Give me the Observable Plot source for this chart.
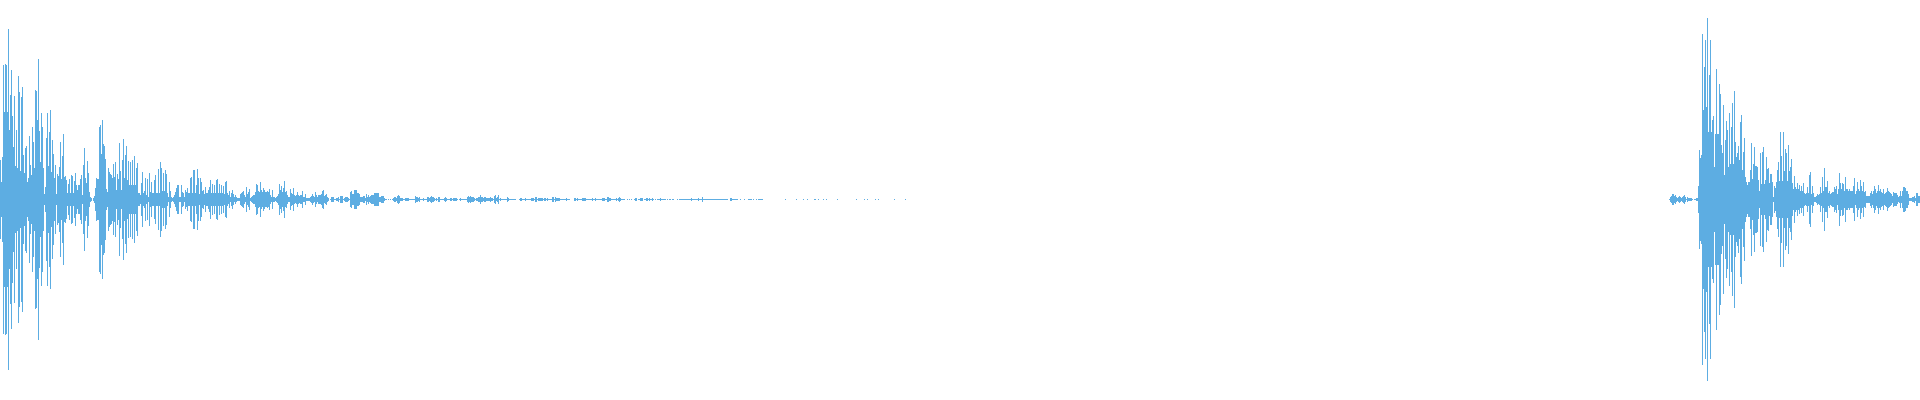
<!DOCTYPE html>
<html><head><meta charset="utf-8">
<style>html,body{margin:0;padding:0;background:#fff}svg{display:block}</style>
<script src="https://cdn.jsdelivr.net/npm/d3@7"></script>
<script src="https://cdn.jsdelivr.net/npm/@observablehq/plot@0.6"></script>
</head><body><div id="chart"></div>
<script>
// half-height of each waveform column, first burst starting at column 0
const burstA = [
40,18,43,135,88,136,135,88,171,70,105,130,84,53,104,34,70,32,124,108,29,103,113,45,27,52,54,18,22,64,
35,25,73,58,32,110,109,80,141,69,38,87,73,32,6,13,62,87,34,68,90,28,60,46,22,35,6,26,24,33,
58,21,44,66,23,24,20,7,16,21,7,25,24,7,19,27,15,10,15,15,21,25,5,35,52,22,17,39,27,8,
3,2,0,2,4,12,22,21,21,73,75,46,80,56,54,41,11,8,32,28,26,25,22,36,23,38,10,26,21,57,
29,10,40,61,22,45,54,20,39,15,38,15,40,15,44,15,32,37,7,7,5,17,28,7,9,22,5,21,3,27,
8,18,7,7,20,25,7,7,31,7,38,32,9,27,9,30,26,7,3,18,9,3,2,3,5,8,12,15,15,3,
3,15,8,7,3,10,8,12,7,7,22,23,7,30,30,7,15,31,22,6,22,18,9,10,6,13,7,7,10,13,
20,7,16,7,15,7,20,21,7,16,7,15,7,14,6,18,19,7,5,9,3,7,10,6,3,5,3,2,2,2,
6,7,8,9,5,3,13,6,8,11,2,3,4,5,5,8,16,15,9,8,18,10,8,12,10,8,8,9,8,11,
5,3,10,3,3,2,3,4,6,16,10,14,8,12,19,8,9,5,3,3,11,7,6,12,5,4,5,8,5,4,
5,5,9,3,3,6,2,2,2,2,3,4,6,4,3,8,5,3,5,5
];
// columns 320 to 639, twenty to a line
const tailA = [
5,6,9,10,4,5,6,3,2,0,1,3,3,3,1,1,2,2,3,1,
4,4,4,1,2,3,3,3,2,1,8,9,6,6,10,10,10,7,7,6,
3,3,3,4,4,2,6,3,5,3,4,5,5,5,7,7,7,7,7,3,
3,4,4,4,2,1,1,0,1,0,1,0,1,2,3,3,2,4,5,4,
2,2,2,1,1,2,2,2,2,1,1,1,1,1,1,4,3,3,2,3,
1,1,1,2,1,1,1,3,3,2,3,4,3,3,2,1,2,1,3,3,
1,1,1,1,2,3,2,1,1,1,2,2,1,2,2,2,2,1,0,1,
2,1,1,1,1,1,1,3,4,3,4,3,3,3,2,1,2,2,3,3,
5,3,3,2,3,3,2,2,2,2,3,2,2,1,4,5,2,3,5,1,
2,1,1,1,1,1,1,3,2,1,1,1,1,1,1,1,0,0,0,1,
2,2,1,1,1,2,1,1,1,1,1,2,2,2,1,3,3,1,2,2,
2,2,2,1,2,2,1,2,1,1,1,1,3,3,1,3,2,2,2,2,
1,1,1,1,1,1,2,1,1,1,0,0,0,0,2,2,1,2,1,1,
1,1,2,2,2,2,1,1,1,1,1,1,2,1,1,2,1,1,1,1,
1,1,2,2,2,1,1,3,3,2,2,1,1,1,1,1,2,1,2,3,
2,1,1,1,1,0,0,1,0,1,0,1,0,0,1,2,2,0,1,1
];
// columns 640 to 763
const fringeA = [
2,2,2,0,1,1,2,2,1,2,1,1,2,1,0,1,0,1,1,1,
2,1,1,1,1,1,0,1,0,1,1,0,1,1,0,0,0,1,0,1,
1,1,1,1,1,1,1,1,1,1,1,2,1,1,1,1,1,1,2,1,
1,1,3,1,1,1,1,1,1,1,1,1,1,1,1,1,1,1,1,1,
1,1,1,1,1,1,1,1,0,0,2,2,1,1,1,1,1,1,0,0,
1,0,0,0,1,0,0,0,1,1,1,1,0,1,0,0,1,0,1,1,1,1,1,0
];
// half-height of columns of the second burst, starting at column 1669
const burstB = [
1,3,4,6,6,4,5,3,2,3,4,3,2,3,4,5,3,1,3,2,2,2,2,1,0,1,1,2,2,14,
50,42,45,166,90,133,160,93,182,68,125,160,68,80,84,33,66,131,66,66,116,106,55,47,95,25,60,79,70,33,
87,36,73,97,36,109,58,43,47,54,40,78,85,30,48,62,23,18,15,18,18,30,57,21,36,53,34,34,33,20,
9,47,16,48,53,16,20,43,31,32,17,26,26,18,3,14,12,18,30,38,19,68,44,19,68,29,51,47,19,55,
29,33,41,17,11,24,13,11,17,11,15,9,14,9,17,7,6,7,13,7,25,28,6,14,7,3,3,4,6,5,
6,13,7,23,9,32,13,13,19,7,9,6,7,8,8,13,11,14,6,11,27,17,11,17,16,9,23,11,11,9,
11,9,9,9,14,22,6,9,18,11,9,20,14,9,18,8,9,4,4,4,4,7,9,6,9,14,11,7,9,15,
9,11,8,7,11,6,7,8,12,9,8,7,6,4,8,7,7,7,5,3,4,9,4,9,13,13,12,9,9,6,
2,2,2,3,3,4,2,7,7,4,4
];
// lone one-pixel ticks past the end of the first burst, by column
const dotCols = [785,796,803,807,814,815,818,823,826,837,856,864,867,875,878,894,905];
const burstBStart = 1669;
const tailAStart = 320;
const fringeAStart = 640;
const color = "#5dade2";

const rows = [];
const add = (arr, start) => arr.forEach((a, i) => { if (a > 0) rows.push({x: start + i, a}); });
add(burstA, 0);
add(tailA, tailAStart);
add(fringeA, fringeAStart);
add(burstB, burstBStart);
dotCols.forEach(x => rows.push({x, a: 1}));

const chart = Plot.plot({
  width: 1920, height: 400,
  marginTop: 0, marginRight: 0, marginBottom: 0, marginLeft: 0,
  x: {domain: [0, 1920], range: [0, 1920], axis: null},
  y: {domain: [-200.5, 199.5], range: [400, 0], axis: null},
  marks: [
    Plot.ruleX(rows, {x: "x", y1: d => -(d.a - 0.5), y2: d => d.a - 0.5, stroke: color, strokeWidth: 1})
  ]
});
document.getElementById("chart").append(chart);
</script></body></html>
